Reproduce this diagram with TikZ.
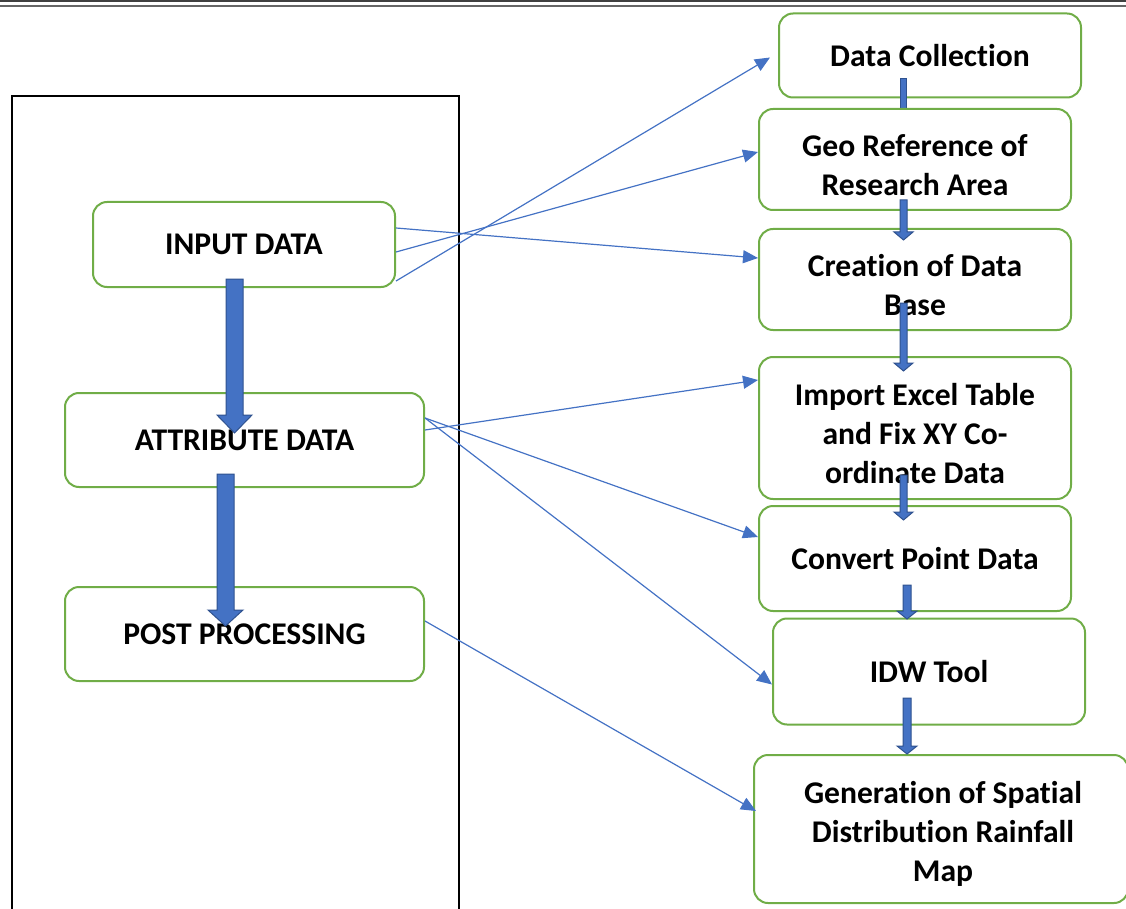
\documentclass[tikz,border=0pt]{standalone}
\usepackage{fontspec}
\setmainfont{Carlito}[Ligatures={NoCommon}]
\usetikzlibrary{arrows.meta}
\definecolor{boxgreen}{HTML}{70AD47}
\definecolor{arrblue}{HTML}{4472C4}
\definecolor{arredge}{HTML}{2F528F}
\tikzset{
  box/.style={draw=boxgreen, line width=2pt, rounded corners=14pt, fill=white,
    align=center, inner sep=0pt, font=\fontsize{31.6}{39}\selectfont\bfseries},
  txt/.style={align=center, inner sep=0pt, font=\fontsize{31.6}{39}\selectfont\bfseries},
  thin/.style={draw=arrblue, line width=1.2pt, -{Triangle[length=15pt,width=13pt]}},
  blockarrow/.style={fill=arrblue, draw=arredge, line width=1pt, line join=miter},
}
\begin{document}
\begin{tikzpicture}[x=1pt,y=-1pt]
\useasboundingbox (0,0) rectangle (1126,909);
% top rule
\draw[line width=2.5pt, black!75] (0,1.2) -- (1126,1.2);
\draw[line width=1.5pt, black!60] (0,6) -- (1126,6);
% frame
\draw[line width=2pt] (12,912) -- (12,96) -- (459,96) -- (459,912);

% left boxes
\node[box, minimum width=302pt, minimum height=85pt] (inp) at (244,244.5) {INPUT DATA};
\node[box, minimum width=359pt, minimum height=94pt] (attr) at (244.5,440) {ATTRIBUTE DATA};
\node[box, minimum width=359pt, minimum height=94pt] (post) at (244.5,634) {POST PROCESSING};

% right boxes
\node[box, minimum width=302pt, minimum height=84pt] (dc) at (930,55.5) {Data Collection};
\draw[blockarrow] (900,79) rectangle (906,112);
\node[box, minimum width=312pt, minimum height=101pt] (geo) at (915,159.5) {};
\node[txt] (geot) at (915,165) {Geo Reference of\\Research Area};
\node[box, minimum width=312pt, minimum height=101pt] (cre) at (915,279.5) {};
\node[txt] (cret) at (915,285.5) {Creation of Data\\Base};
\node[box, minimum width=312pt, minimum height=142pt] (imp) at (915,428) {};
\node[txt] (impt) at (915,434) {Import Excel Table\\and Fix XY Co-\\ordinate Data};
\node[box, minimum width=312pt, minimum height=105pt] (cpd) at (915,558.5) {Convert Point Data};
\node[box, minimum width=312pt, minimum height=106pt] (idw) at (929,671.5) {IDW Tool};
\node[box, minimum width=374pt, minimum height=148pt] (gen) at (941,829) {};
\node[txt] (gent) at (943,834) {Generation of Spatial\\Distribution Rainfall\\Map};

% big block arrows
\draw[blockarrow] (226,279) -- (243,279) -- (243,415) -- (252,415) -- (234.5,433) -- (217,415) -- (226,415) -- cycle;
\draw[blockarrow] (217,474) -- (234,474) -- (234,610) -- (243,610) -- (225.5,626) -- (208,610) -- (217,610) -- cycle;

% small block arrows
\draw[blockarrow] (900,200) -- (907,200) -- (907,232) -- (913,232) -- (903.5,240) -- (894,232) -- (900,232) -- cycle;
\draw[blockarrow] (900,303) -- (907,303) -- (907,363) -- (913,363) -- (903.5,371) -- (894,363) -- (900,363) -- cycle;
\draw[blockarrow] (900,475) -- (907,475) -- (907,512) -- (913,512) -- (903.5,520) -- (894,512) -- (900,512) -- cycle;
\draw[blockarrow] (903,585) -- (911,585) -- (911,611) -- (917,611) -- (907,619) -- (897,611) -- (903,611) -- cycle;
\draw[blockarrow] (903,698) -- (911,698) -- (911,746) -- (917,746) -- (907,754) -- (897,746) -- (903,746) -- cycle;

% thin connectors
\draw[thin] ([yshift=16.5pt]inp.east) -- ([yshift=21.5pt]cre.west);
\draw[thin] ([yshift=-7.5pt]inp.east) -- ([yshift=7.5pt]geo.west);
\draw[thin] ([yshift=-36.5pt]inp.east) -- ([xshift=-8pt,yshift=-2pt]dc.west);
\draw[thin] ([yshift=10pt]attr.east) -- ([yshift=48pt]imp.west);
\draw[thin] ([yshift=22pt]attr.east) -- ([yshift=21.5pt]cpd.west);
\draw[thin] ([yshift=22pt]attr.east) -- ([yshift=-13pt]idw.west);
\draw[thin] ([yshift=13pt]post.east) -- ([xshift=3pt,yshift=18pt]gen.west);
\end{tikzpicture}
\end{document}
